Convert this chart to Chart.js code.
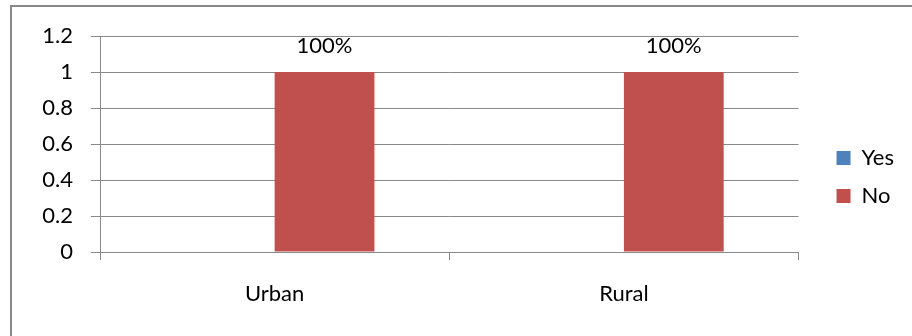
<!DOCTYPE html>
<html>
<head>
<meta charset="utf-8">
<script src="https://cdn.jsdelivr.net/npm/chart.js@4/dist/chart.umd.min.js"></script>
<style>
  html, body { margin: 0; padding: 0; background: #fff; }
  #wrap { position: relative; width: 912px; height: 336px; overflow: hidden; }
  #frame { position: absolute; left: 10px; top: 5px; width: 910px; height: 340px;
           border-left: 2px solid #888; border-top: 2px solid #888; box-sizing: border-box; }
  canvas { position: absolute; left: 0; top: 0; }
</style>
</head>
<body>
<div id="wrap">
  <div id="frame"></div>
  <canvas id="chart" width="912" height="336"></canvas>
</div>
<script>
const categories = ['Urban', 'Rural'];
const yesValues = [0, 0];
const noValues = [1, 1];
const seriesNames = ['Yes', 'No'];

const gridColor = '#898989';
const fontFamily = 'Lato, "Open Sans", sans-serif';

// "100%" labels above the No bars
const barLabels = {
  id: 'barLabels',
  afterDatasetsDraw(chart) {
    const ctx = chart.ctx;
    const meta = chart.getDatasetMeta(1);
    ctx.save();
    ctx.font = '22px ' + fontFamily;
    ctx.fillStyle = '#000';
    ctx.textAlign = 'center';
    ctx.textBaseline = 'middle';
    meta.data.forEach((bar, i) => {
      const v = chart.data.datasets[1].data[i];
      ctx.fillText(Math.round(v * 100) + '%', bar.x, bar.y - 26);
    });
    ctx.restore();
  }
};

// nudge the legend a bit right and up, like the original
const legendNudge = {
  id: 'legendNudge',
  afterLayout(chart) {
    const lg = chart.legend;
    lg.left += 22; lg.right += 22;
    lg.top -= 9; lg.bottom -= 9;
  }
};

Chart.defaults.font.family = fontFamily;
Chart.defaults.font.size = 22;
Chart.defaults.color = '#000';

new Chart(document.getElementById('chart'), {
  type: 'bar',
  data: {
    labels: categories,
    datasets: [
      { label: seriesNames[0], data: yesValues, backgroundColor: '#4F81BD' },
      { label: seriesNames[1], data: noValues, backgroundColor: '#C0504D' }
    ]
  },
  options: {
    responsive: false,
    animation: false,
    layout: { padding: { top: 36, right: 30, bottom: 0, left: 0 } },
    datasets: { bar: { categoryPercentage: 2 / 3.5, barPercentage: 1 } },
    plugins: {
      tooltip: { enabled: false },
      legend: {
        position: 'right',
        labels: { boxWidth: 14, boxHeight: 14, padding: 16, font: { size: 22 } }
      }
    },
    scales: {
      x: {
        grid: { offset: true, drawOnChartArea: false, drawTicks: true, tickLength: 8, color: gridColor },
        border: { color: gridColor },
        ticks: { padding: 21 },
        afterFit(scale) { scale.height = 84; }
      },
      y: {
        min: 0,
        max: 1.2,
        ticks: { stepSize: 0.2, padding: 18, callback: v => String(+v.toFixed(1)) },
        grid: { color: gridColor, tickLength: 9 },
        border: { color: gridColor },
        afterFit(scale) { scale.width = 100; }
      }
    }
  },
  plugins: [barLabels, legendNudge]
});
</script>
</body>
</html>
